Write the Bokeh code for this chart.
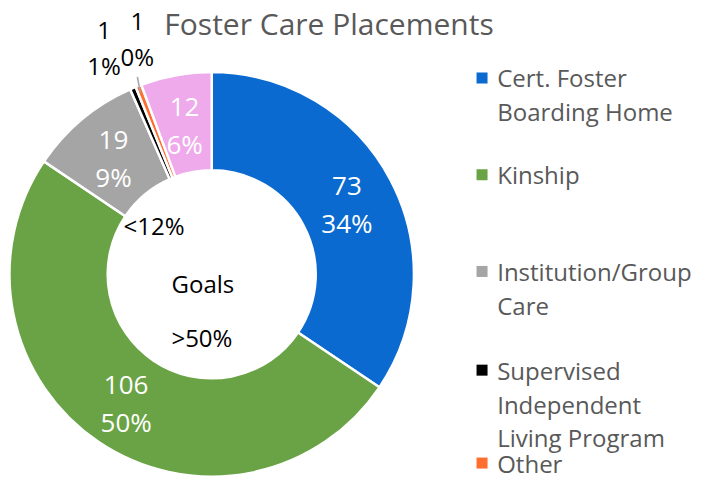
import numpy as np
from bokeh.plotting import figure
from bokeh.models import Range1d, ColumnDataSource
from bokeh.core.properties import value
from bokeh.embed import file_html
from bokeh.resources import INLINE

# ---- data ----
categories = ["Cert. Foster Boarding Home", "Kinship", "Institution/Group Care",
              "Supervised Independent Living Program", "Other", "Other Placement"]
counts = [73, 106, 19, 1, 1, 12]
pct_labels = ["34%", "50%", "9%", "1%", "0%", "6%"]
colors = ["#0A6ACF", "#6AA345", "#A5A5A5", "#000000", "#FF6E2E", "#EEAAEB"]
legend_lines = [["Cert. Foster", "Boarding Home"], ["Kinship"],
                ["Institution/Group", "Care"],
                ["Supervised", "Independent", "Living Program"], ["Other"]]
goal_labels = ["<12%", "Goals", ">50%"]
title = "Foster Care Placements"

W, H = 703, 479
RW, RH = 719, 495
SX, SY = W / RW, H / RH
FONT = "Open Sans"


def fx(X):
    return X * SX


def fy(Y):
    return H - Y * SY


p = figure(width=W, height=H, output_backend="svg", toolbar_location=None,
           x_range=Range1d(0, W), y_range=Range1d(0, H), min_border=0)
p.axis.visible = False
p.grid.visible = False
p.outline_line_color = None
p.background_fill_color = "white"

cx, cy = fx(216), fy(283)
r_out, r_in = 209 * SY, 107.5 * SY

vals = np.array(counts, dtype=float)
frac = vals / vals.sum()
cum = np.concatenate([[0], np.cumsum(frac)])
start = np.pi / 2 - 2 * np.pi * cum[:-1]
end = np.pi / 2 - 2 * np.pi * cum[1:]

src = ColumnDataSource(dict(start=start, end=end, color=colors))
p.annular_wedge(x=cx, y=cy, inner_radius=r_in, outer_radius=r_out,
                start_angle="start", end_angle="end", direction="clock",
                fill_color="color", line_color="white", line_width=2.5,
                source=src)

# inside labels (value + percent) for the larger slices
mid = (start + end) / 2
r_mid = (r_out + r_in) / 2
for i in range(len(counts)):
    if counts[i] < 5:
        continue
    lx = cx + r_mid * np.cos(mid[i])
    ly = cy + r_mid * np.sin(mid[i]) - 2
    p.text(x=[lx, lx], y=[ly + 18.5, ly - 18.5], text=[str(counts[i]), pct_labels[i]],
           text_color="white", text_font=value(FONT), text_font_size="26px",
           text_align="center", text_baseline="middle")

# outside labels for the tiny slices
out_pos = {3: (106, 31, 67), 4: (140, 22, 58)}
for i, (X, Y1, Y2) in out_pos.items():
    p.text(x=[fx(X), fx(X)], y=[fy(Y1), fy(Y2)], text=[str(counts[i]), pct_labels[i]],
           text_color="black", text_font=value(FONT), text_font_size="24px",
           text_align="center", text_baseline="middle")
# leader line
p.line(x=[fx(140), fx(143)], y=[fy(79), fy(95)], line_color="#A6A6A6", line_width=1.5)

# center goal texts
p.text(x=[fx(157), fx(207), fx(206)], y=[fy(232), fy(292), fy(348)], text=goal_labels,
       text_color="black", text_font=value(FONT), text_font_size="24px",
       text_align="center", text_baseline="middle")

# title
p.text(x=[fx(336)], y=[fy(24)], text=[title], text_color="#595959",
       text_font=value(FONT), text_font_size="30px", text_align="center",
       text_baseline="alphabetic")

# legend
item_y = [80, 180, 280, 382, 478]
for k, lines in enumerate(legend_lines):
    Y0 = item_y[k]
    p.rect(x=[fx(492.5)], y=[fy(Y0)], width=11, height=11,
           fill_color=colors[k], line_color=None)
    ys = [fy(Y0 + 35 * j) for j in range(len(lines))]
    p.text(x=[fx(508)] * len(lines), y=ys, text=lines, text_color="#595959",
           text_font=value(FONT), text_font_size="24px", text_align="left",
           text_baseline="middle")

open("out.html", "w").write(file_html(p, INLINE))
